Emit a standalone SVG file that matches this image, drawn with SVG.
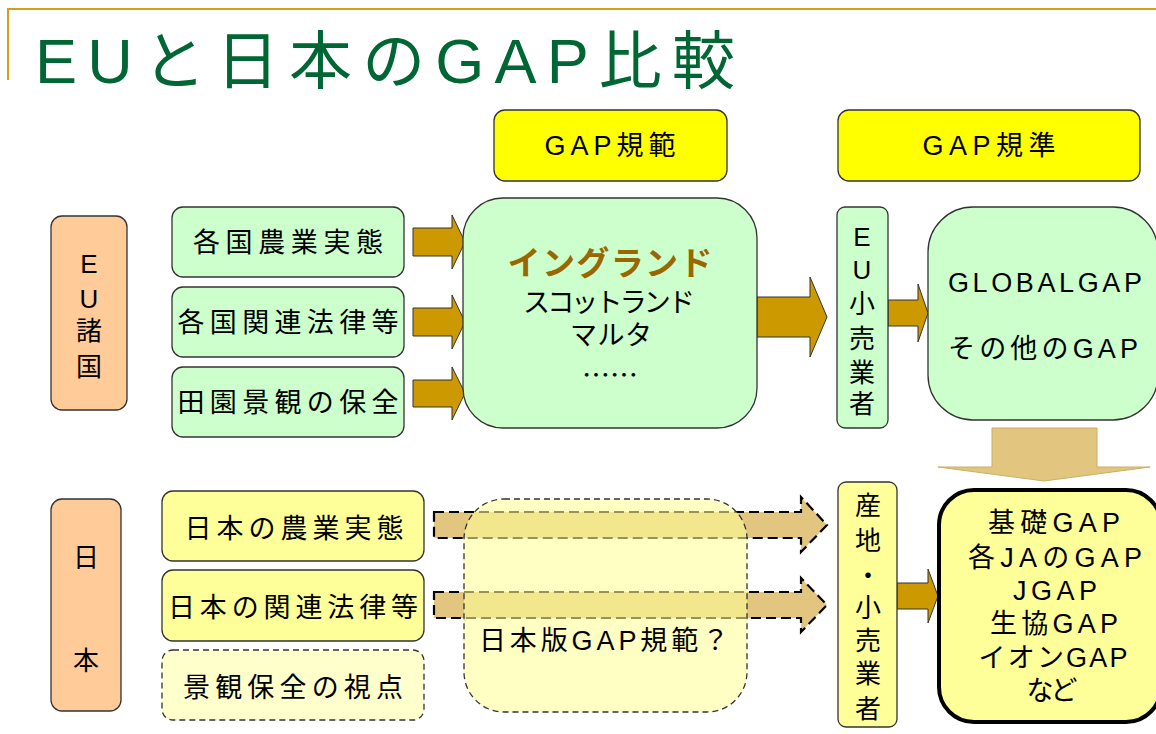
<svg xmlns="http://www.w3.org/2000/svg" width="1156" height="734" viewBox="0 0 1156 734">
<style>
text{font-family:"Liberation Sans","Noto Sans CJK JP",sans-serif;fill:#000;text-anchor:middle}
.t{font-size:27px}
.v{font-size:26px}
.box{stroke:#333;stroke-width:1.3}
.g{fill:#CCFFCC}
.y{fill:#FFFF99}
.ye{fill:#FFFF00}
.p{fill:#FFCC99}
.arr{fill:#CC9900;stroke:#333;stroke-width:1}
.darr{fill:#E2C67F;stroke:#000;stroke-width:2.2;stroke-dasharray:10 5}
</style>
<rect width="1156" height="734" fill="#fff"/>
<g id="frame">
<polyline points="8,80 8,9 1156,9" fill="none" stroke="#D4A017" stroke-width="2"/>
</g>
<g id="title">
<text x="385" y="83" style="font-size:63px;fill:#006633" textLength="700" lengthAdjust="spacing">EUと日本のGAP比較</text>
</g>
<g id="connectors">
<polygon class="arr" points="413,228 452,228 452,215 465,242 452,269 452,256 413,256"/>
<polygon class="arr" points="413,308 452,308 452,295 465,322 452,349 452,336 413,336"/>
<polygon class="arr" points="413,380 452,380 452,367 465,393 452,420 452,407 413,407"/>
<polygon class="arr" points="757,297 810,297 810,277 827,317 810,357 810,337 757,337"/>
<polygon class="arr" points="888,300 918,300 918,284 928,313 918,342 918,326 888,326"/>
<polygon class="arr" points="897,583 928,583 928,569 938,596 928,623 928,609 897,609"/>
<polygon points="992,428 1097,428 1097,467 1150,467 1044,481 938,467 992,467" fill="#E2C67F" stroke="#C9AE66" stroke-width="1"/>
<polygon class="darr" points="434,512 801,512 801,497 827,525 801,552 801,538 434,538"/>
<polygon class="darr" points="434,592 801,592 801,578 827,605 801,632 801,618 434,618"/>
</g>
<g id="hdr-kihan">
<rect class="box ye" x="494" y="110" width="233" height="71" rx="11"/>
<text class="t" x="610" y="155" textLength="131" lengthAdjust="spacing">GAP規範</text>
</g>
<g id="hdr-kijun">
<rect class="box ye" x="838" y="110" width="302" height="71" rx="11"/>
<text class="t" x="989" y="155" textLength="133" lengthAdjust="spacing">GAP規準</text>
</g>
<g id="eu">
<rect class="box p" x="51" y="216" width="76" height="194" rx="11"/>
<text class="v" x="89" y="273">E</text>
<text class="v" x="89" y="308">U</text>
<text class="v" x="89" y="340">諸</text>
<text class="v" x="89" y="376">国</text>
</g>
<g id="eu1">
<rect class="box g" x="172" y="207" width="232" height="70" rx="11"/>
<text class="t" x="288" y="252" textLength="190" lengthAdjust="spacing">各国農業実態</text>
</g>
<g id="eu2">
<rect class="box g" x="172" y="287" width="232" height="70" rx="11"/>
<text class="t" x="288" y="332" textLength="221" lengthAdjust="spacing">各国関連法律等</text>
</g>
<g id="eu3">
<rect class="box g" x="172" y="367" width="232" height="70" rx="11"/>
<text class="t" x="288" y="412" textLength="221" lengthAdjust="spacing">田園景観の保全</text>
</g>
<g id="eu-kihan">
<rect class="box g" x="463" y="198" width="294" height="230" rx="40"/>
<text x="610" y="275" style="font-size:33px;font-weight:bold;fill:#996600" textLength="205" lengthAdjust="spacing">イングランド</text>
<text class="t" x="609" y="312" textLength="172" lengthAdjust="spacing">スコットランド</text>
<text class="t" x="611" y="345" textLength="82" lengthAdjust="spacing">マルタ</text>
<text x="610" y="386" style="font-family:'Noto Sans CJK JP',sans-serif;font-size:28px">……</text>
</g>
<g id="eu-retail">
<rect class="box g" x="837" y="207" width="51" height="221" rx="8"/>
<text class="v" x="862" y="246">E</text>
<text class="v" x="862" y="279">U</text>
<text class="v" x="862" y="313">小</text>
<text class="v" x="862" y="348">売</text>
<text class="v" x="862" y="382">業</text>
<text class="v" x="862" y="413">者</text>
</g>
<g id="eu-kijun">
<rect class="box g" x="928" y="207" width="230" height="213" rx="45"/>
<text x="1045" y="292" style="font-size:27px" textLength="194" lengthAdjust="spacing">GLOBALGAP</text>
<text x="1043" y="358" style="font-size:27px" textLength="190" lengthAdjust="spacing">その他のGAP</text>
</g>
<g id="jp">
<rect class="box p" x="51" y="499" width="70" height="212" rx="11"/>
<text class="v" x="86" y="567">日</text>
<text class="v" x="86" y="670">本</text>
</g>
<g id="jp1">
<rect class="box y" x="162" y="491" width="262" height="70" rx="11"/>
<text class="t" x="294" y="538" textLength="219" lengthAdjust="spacing">日本の農業実態</text>
</g>
<g id="jp2">
<rect class="box y" x="162" y="570" width="262" height="71" rx="11"/>
<text class="t" x="293" y="617" textLength="250" lengthAdjust="spacing">日本の関連法律等</text>
</g>
<g id="jp3">
<rect x="162" y="650" width="262" height="70" rx="11" fill="#FFFFCC" stroke="#333" stroke-width="1.3" stroke-dasharray="6 4"/>
<text class="t" x="293" y="697" textLength="220" lengthAdjust="spacing">景観保全の視点</text>
</g>
<g id="jp-kihan">
<rect x="464" y="499" width="283" height="213" rx="40" fill="#FFFF99" fill-opacity="0.58" stroke="#333" stroke-width="1.3" stroke-dasharray="6 4"/>
<text class="t" x="604" y="650" textLength="250" lengthAdjust="spacing">日本版GAP規範？</text>
</g>
<g id="jp-retail">
<rect class="box y" x="838" y="482" width="59" height="245" rx="8"/>
<text class="v" x="868" y="515">産</text>
<text class="v" x="868" y="550">地</text>
<text class="v" x="868" y="585">・</text>
<text class="v" x="868" y="617">小</text>
<text class="v" x="868" y="650">売</text>
<text class="v" x="868" y="683">業</text>
<text class="v" x="868" y="718">者</text>
</g>
<g id="jp-kijun">
<rect x="939" y="490" width="222" height="232" rx="35" fill="#FFFF99" stroke="#000" stroke-width="4"/>
<text class="t" x="1054" y="532" textLength="132" lengthAdjust="spacing">基礎GAP</text>
<text class="t" x="1055" y="567" textLength="174" lengthAdjust="spacing">各JAのGAP</text>
<text class="t" x="1055" y="600" textLength="84" lengthAdjust="spacing">JGAP</text>
<text class="t" x="1054" y="633" textLength="128" lengthAdjust="spacing">生協GAP</text>
<text class="t" x="1053" y="667" textLength="149" lengthAdjust="spacing">イオンGAP</text>
<text class="t" x="1052" y="700" textLength="51" lengthAdjust="spacing">など</text>
</g>
</svg>
